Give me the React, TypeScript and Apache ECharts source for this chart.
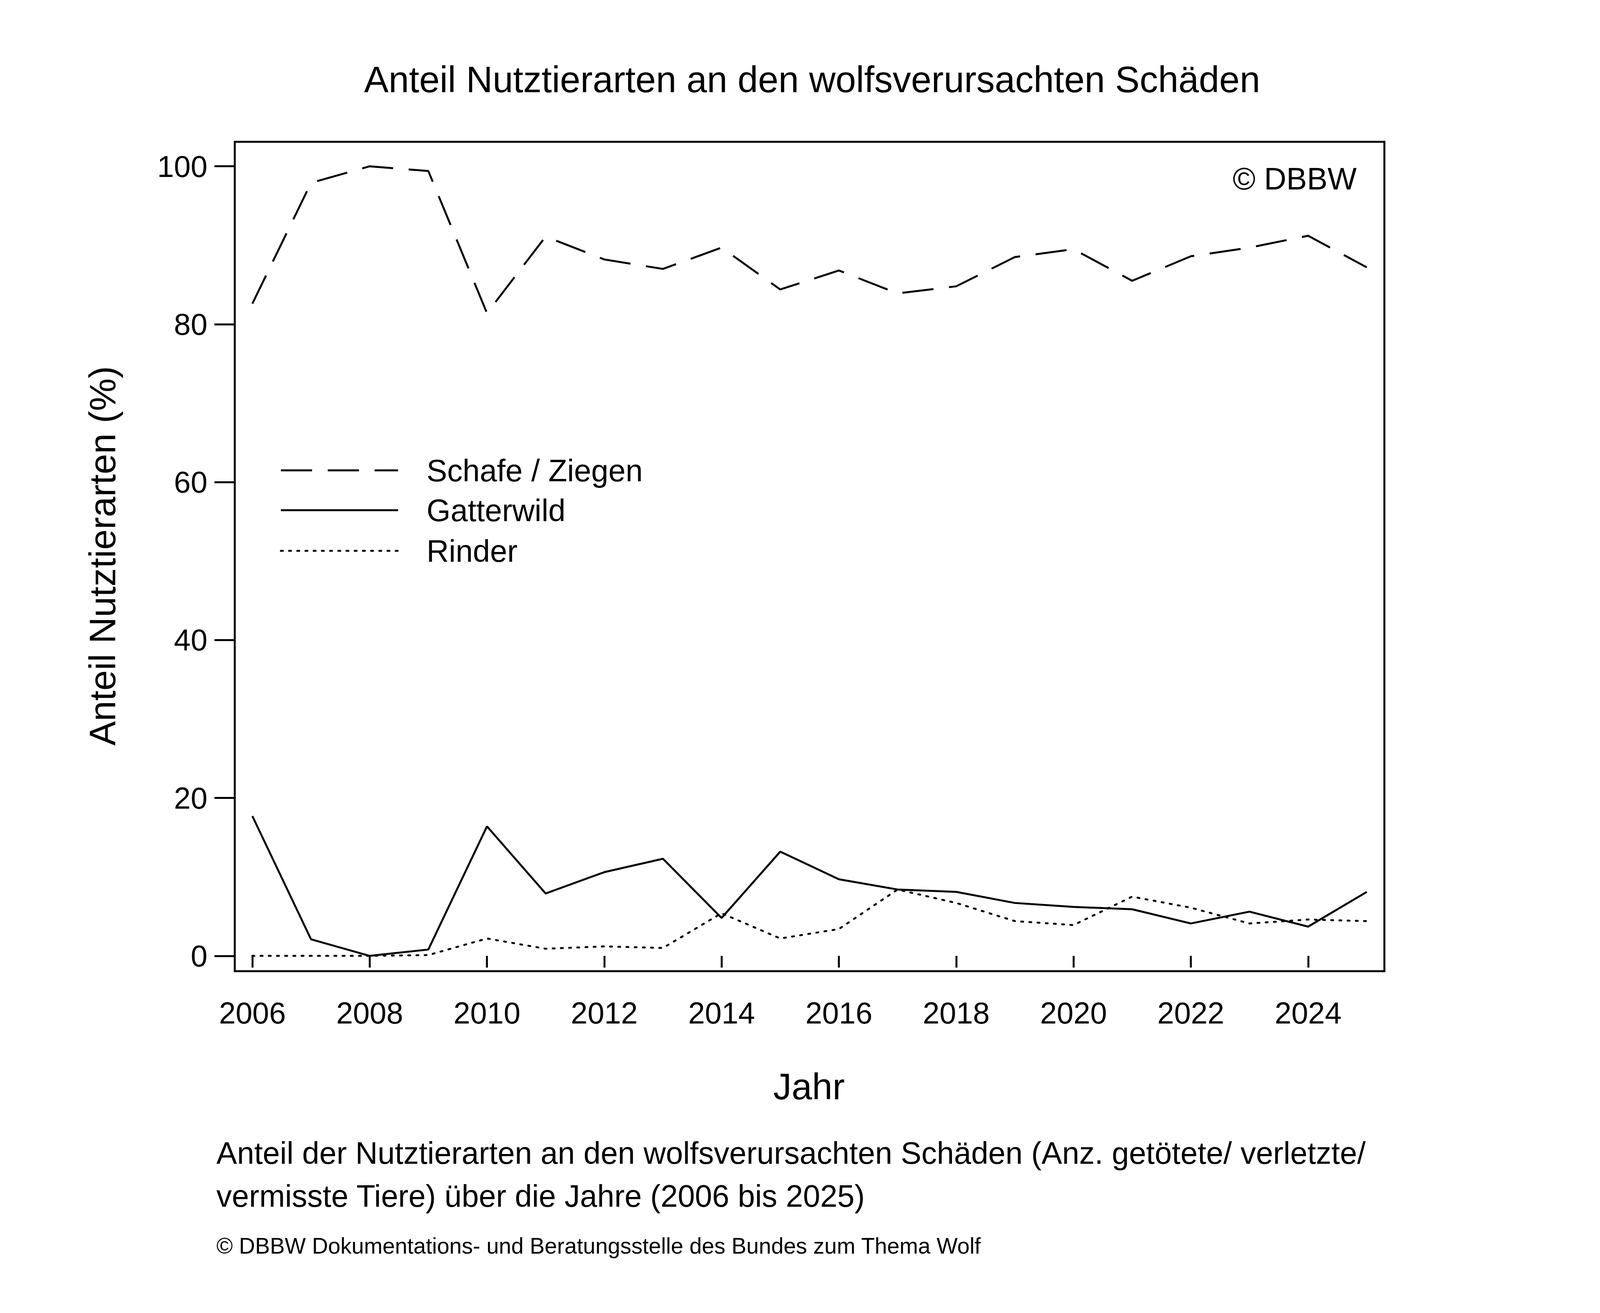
import { useEffect, useRef } from 'react';
import * as echarts from 'echarts';

const years = [2006, 2007, 2008, 2009, 2010, 2011, 2012, 2013, 2014, 2015, 2016, 2017, 2018, 2019, 2020, 2021, 2022, 2023, 2024, 2025];
const schafe = [82.6, 97.9, 100, 99.4, 81.4, 91.1, 88.2, 87.0, 89.7, 84.4, 86.8, 83.9, 84.8, 88.5, 89.5, 85.5, 88.6, 89.7, 91.2, 87.2];
const gatterwild = [17.7, 2.1, 0, 0.8, 16.4, 7.9, 10.6, 12.3, 4.8, 13.2, 9.7, 8.4, 8.1, 6.7, 6.2, 5.9, 4.1, 5.6, 3.7, 8.1];
const rinder = [0, 0, 0, 0.1, 2.2, 0.9, 1.2, 1.0, 5.4, 2.2, 3.4, 8.4, 6.7, 4.4, 3.9, 7.5, 6.1, 4.1, 4.6, 4.4];
const xTicks = [2006, 2008, 2010, 2012, 2014, 2016, 2018, 2020, 2022, 2024];
const yTicks = [0, 20, 40, 60, 80, 100];
const seriesNames = ['Schafe / Ziegen', 'Gatterwild', 'Rinder'];

const FONT = 'Liberation Sans';
const DASH = [80, 40];
const DOT = [5, 16];

export default function App() {
  const ref = useRef<HTMLDivElement>(null);

  useEffect(() => {
    if (!ref.current) return;
    document.body.style.margin = '0';
    const chart = echarts.init(ref.current, null, { renderer: 'svg' });
    const pair = (vals: number[]) => years.map((y, i) => [y, vals[i]]);
    const styles = [DASH, 'solid', DOT];
    const legendY = [1204, 1306, 1410];

    chart.setOption({
      animation: false,
      backgroundColor: '#fff',
      textStyle: { fontFamily: FONT },
      grid: { left: 601, right: 558, top: 363, bottom: 875, show: true, borderColor: '#000', borderWidth: 5, backgroundColor: 'transparent' },
      xAxis: {
        type: 'value', min: 2005.7, max: 2025.3,
        axisLine: { show: false }, splitLine: { show: false },
        axisTick: { show: true, customValues: xTicks, length: 30, lineStyle: { color: '#000', width: 5 } },
        axisLabel: { customValues: xTicks, color: '#000', fontSize: 77, margin: 68, fontFamily: FONT, formatter: (v: number) => String(v) },
      },
      yAxis: {
        type: 'value', min: -1.94, max: 103.1,
        axisLine: { show: false }, splitLine: { show: false },
        axisTick: { show: true, customValues: yTicks, length: 52, lineStyle: { color: '#000', width: 5 } },
        axisLabel: { customValues: yTicks, color: '#000', fontSize: 77, margin: 70, fontFamily: FONT },
      },
      series: [schafe, gatterwild, rinder].map((v, i) => ({
        type: 'line', name: seriesNames[i], data: pair(v), symbol: 'none',
        lineStyle: { color: '#000', width: 5, type: styles[i], cap: i === 2 ? 'round' : 'butt' },
      })),
      graphic: [
        { type: 'text', x: 2079, y: 203, style: { text: 'Anteil Nutztierarten an den wolfsverursachten Schäden', font: `94px "${FONT}"`, fill: '#000', textAlign: 'center', textVerticalAlign: 'middle' } },
        { type: 'text', x: 3473, y: 457, style: { text: '© DBBW', font: `79px "${FONT}"`, fill: '#000', textAlign: 'right', textVerticalAlign: 'middle' } },
        { type: 'text', x: 2071, y: 2781, style: { text: 'Jahr', font: `94px "${FONT}"`, fill: '#000', textAlign: 'center', textVerticalAlign: 'middle' } },
        { type: 'text', x: 262, y: 1423, rotation: Math.PI / 2, style: { text: 'Anteil Nutztierarten (%)', font: `94px "${FONT}"`, fill: '#000', textAlign: 'center', textVerticalAlign: 'middle' } },
        { type: 'text', x: 554, y: 2951, style: { text: 'Anteil der Nutztierarten an den wolfsverursachten Schäden (Anz. getötete/ verletzte/', font: `79px "${FONT}"`, fill: '#000', textVerticalAlign: 'middle' } },
        { type: 'text', x: 554, y: 3061, style: { text: 'vermisste Tiere) über die Jahre (2006 bis 2025)', font: `79px "${FONT}"`, fill: '#000', textVerticalAlign: 'middle' } },
        { type: 'text', x: 554, y: 3189, style: { text: '© DBBW Dokumentations- und Beratungsstelle des Bundes zum Thema Wolf', font: `57px "${FONT}"`, fill: '#000', textVerticalAlign: 'middle' } },
        ...seriesNames.flatMap((n, i) => [
          { type: 'line', shape: { x1: 719, y1: legendY[i], x2: 1019, y2: legendY[i] }, style: { stroke: '#000', lineWidth: 5, lineDash: i === 1 ? null : styles[i], lineCap: i === 2 ? 'round' : 'butt' } },
          { type: 'text', x: 1092, y: legendY[i], style: { text: n, font: `79px "${FONT}"`, fill: '#000', textVerticalAlign: 'middle' } },
        ]),
      ],
    });
    return () => chart.dispose();
  }, []);

  return <div ref={ref} style={{ width: 4102, height: 3361 }} />;
}
